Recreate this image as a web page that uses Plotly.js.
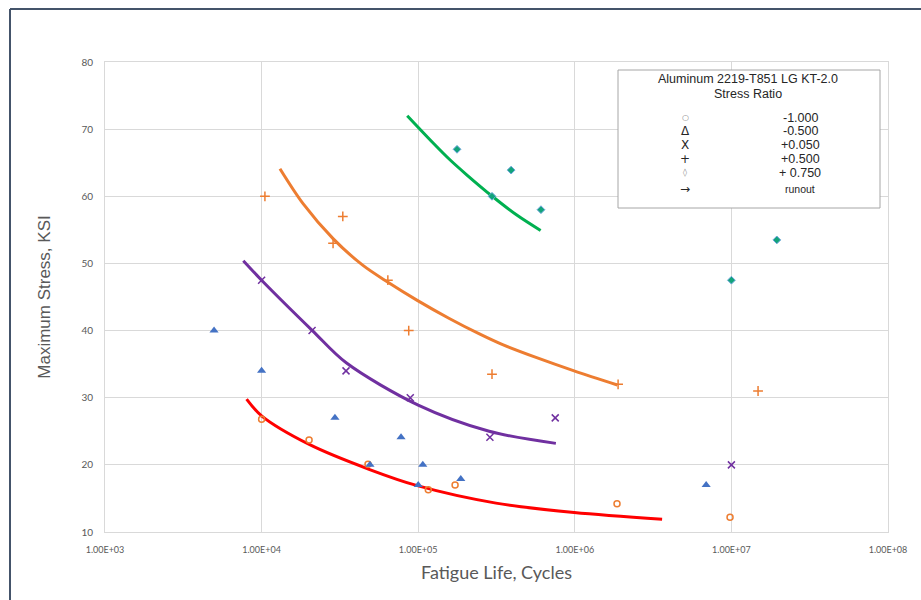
<!DOCTYPE html>
<html>
<head>
<meta charset="utf-8">
<script src="https://cdn.plot.ly/plotly-3.0.1.min.js"></script>
<style>html,body{margin:0;padding:0;background:#fff;}#chart{width:921px;height:600px;}</style>
</head>
<body>
<div id="chart"></div>
<script>
// ---- Data: test points by stress ratio ----
const rNeg1_x = [1.0e4, 2.01e4, 4.78e4, 1.16e5, 1.72e5, 1.86e6, 9.8e6];
const rNeg1_y = [26.8, 23.7, 20.1, 16.3, 17.0, 14.2, 12.2];

const rNeg05_x = [4.97e3, 1.0e4, 2.94e4, 4.92e4, 7.77e4, 1.0e5, 1.07e5, 1.87e5, 6.9e6];
const rNeg05_y = [40.0, 34.0, 27.0, 20.0, 24.1, 17.0, 20.0, 17.9, 17.0];

const r005_x = [1.0e4, 2.1e4, 3.46e4, 8.9e4, 2.87e5, 7.5e5, 1.0e7];
const r005_y = [47.5, 40.0, 34.0, 30.0, 24.1, 27.0, 20.0];

const r05_x = [1.05e4, 2.86e4, 3.3e4, 6.4e4, 8.7e4, 2.96e5, 1.89e6, 1.48e7];
const r05_y = [60.0, 53.0, 57.0, 47.5, 40.0, 33.5, 32.0, 31.0];

const r075_x = [1.77e5, 2.96e5, 3.92e5, 6.08e5, 1.0e7, 1.95e7];
const r075_y = [67.0, 60.0, 63.9, 58.0, 47.5, 53.5];

// ---- Data: fitted curves ----
const fitNeg1_x = [8.02e3, 1.0e4, 2.03e4, 4.9e4, 9.87e4, 3.14e5, 9.9e5, 3.61e6];
const fitNeg1_y = [29.8, 27.3, 23.0, 19.3, 16.9, 14.3, 12.9, 11.9];

const fit005_x = [7.64e3, 1.0e4, 2.11e4, 3.47e4, 1.0e5, 2.84e5, 7.57e5];
const fit005_y = [50.4, 47.5, 40.0, 35.2, 28.9, 25.0, 23.2];

const fit05_x = [1.31e4, 1.84e4, 2.86e4, 4.44e4, 6.41e4, 9.86e4, 1.58e5, 2.46e5, 3.46e5, 5.65e5, 9.9e5, 1.87e6];
const fit05_y = [64.1, 58.9, 53.7, 49.7, 47.2, 44.5, 41.8, 39.5, 37.9, 36.0, 34.0, 31.9];

const fit075_x = [8.51e4, 1.25e5, 1.6e5, 2.04e5, 2.97e5, 4.26e5, 6.05e5];
const fit075_y = [72.0, 67.9, 65.4, 63.2, 60.0, 57.2, 54.9];

// ---- Axis ticks ----
const xTickVals = [1e3, 1e4, 1e5, 1e6, 1e7, 1e8];
const xTickText = ['1.00E+03', '1.00E+04', '1.00E+05', '1.00E+06', '1.00E+07', '1.00E+08'];
const yTickVals = [10, 20, 30, 40, 50, 60, 70, 80];

// ---- Legend text ----
const legendTitle = ['Aluminum 2219-T851 LG KT-2.0', 'Stress Ratio'];
const legendSymbols = ['○', 'Δ', 'X', '+', '◊', '→'];
const legendLabels = ['-1.000', '-0.500', '+0.050', '+0.500', '+ 0.750', 'runout'];

const orange = '#ED7D31', blue = '#4472C4', purple = '#7030A0', green = '#00B050';
const sp = {shape: 'spline', smoothing: 0.9, width: 3};

const traces = [
  {x: fitNeg1_x, y: fitNeg1_y, mode: 'lines', line: Object.assign({color: '#FF0000'}, sp)},
  {x: fit005_x, y: fit005_y, mode: 'lines', line: Object.assign({color: purple}, sp)},
  {x: fit05_x, y: fit05_y, mode: 'lines', line: Object.assign({color: orange}, sp)},
  {x: fit075_x, y: fit075_y, mode: 'lines', line: Object.assign({color: green}, sp)},
  {x: rNeg1_x, y: rNeg1_y, mode: 'markers', marker: {symbol: 'circle-open', size: 6, color: orange, line: {width: 1.5, color: orange}}},
  {x: rNeg05_x, y: rNeg05_y, mode: 'markers', marker: {symbol: 'triangle-up', size: 8, color: blue}},
  {x: r005_x, y: r005_y, mode: 'markers', marker: {symbol: 'x-thin-open', size: 7, color: purple, line: {width: 1.5, color: purple}}},
  {x: r05_x, y: r05_y, mode: 'markers', marker: {symbol: 'cross-thin-open', size: 7, color: orange, line: {width: 1.5, color: orange}}},
  {x: r075_x, y: r075_y, mode: 'markers', marker: {symbol: 'diamond', size: 6, color: '#12A37A', line: {width: 1, color: '#6FA8DC'}}}
];

// pixel helpers for layout-only placements
const L = 105, R = 888, T = 62, B = 532;
const px = v => (v - L) / (R - L);
const py = v => (B - v) / (B - T);

const annotations = [];
const legFont = {family: 'Liberation Sans, Arial, sans-serif', size: 12.5, color: '#262626'};
annotations.push({xref: 'paper', yref: 'paper', x: px(748), y: py(79), text: legendTitle[0], showarrow: false, font: legFont, xanchor: 'center', yanchor: 'middle'});
annotations.push({xref: 'paper', yref: 'paper', x: px(748), y: py(94), text: legendTitle[1], showarrow: false, font: legFont, xanchor: 'center', yanchor: 'middle'});
const rowY = [118, 131, 145, 159, 173, 189];
for (let i = 0; i < legendSymbols.length; i++) {
  const small = (i === 0 || i === 4);
  annotations.push({xref: 'paper', yref: 'paper', x: px(685), y: py(rowY[i]), text: legendSymbols[i], showarrow: false,
    font: {family: 'DejaVu Sans, sans-serif', size: small ? 8 : 12, color: small ? '#7f7f7f' : '#262626'}, xanchor: 'center', yanchor: 'middle'});
  annotations.push({xref: 'paper', yref: 'paper', x: px(800), y: py(rowY[i]), text: legendLabels[i], showarrow: false,
    font: i === 5 ? {family: 'Liberation Sans, Arial, sans-serif', size: 10.5, color: '#262626'} : legFont, xanchor: 'center', yanchor: 'middle'});
}

const layout = {
  width: 921, height: 600,
  margin: {l: L, r: 921 - R, t: T, b: 600 - B},
  paper_bgcolor: '#ffffff', plot_bgcolor: '#ffffff',
  showlegend: false,
  xaxis: {
    type: 'log', range: [3, 8],
    tickvals: xTickVals, ticktext: xTickText,
    showgrid: true, gridcolor: '#d9d9d9', gridwidth: 1,
    showline: true, linecolor: '#d9d9d9', linewidth: 1, mirror: true,
    zeroline: false, ticks: '', ticklabelstandoff: 9,
    tickfont: {family: 'Liberation Sans Narrow, Lato, sans-serif', size: 9, color: '#595959'},
    title: {text: 'Fatigue Life, Cycles', font: {family: 'Lato, sans-serif', size: 18, color: '#595959'}, standoff: 12}
  },
  yaxis: {
    range: [10, 80], tickvals: yTickVals,
    showgrid: true, gridcolor: '#d9d9d9', gridwidth: 1,
    showline: true, linecolor: '#d9d9d9', linewidth: 1, mirror: true,
    zeroline: false, ticks: '', ticklabelstandoff: 9,
    tickfont: {family: 'Lato, sans-serif', size: 10, color: '#595959'},
    title: {text: 'Maximum Stress, KSI', font: {family: 'Liberation Sans, Arial, sans-serif', size: 17, color: '#595959'}, standoff: 26}
  },
  shapes: [
    {type: 'rect', xref: 'paper', yref: 'paper', x0: px(618), x1: px(880), y0: py(208), y1: py(70),
     line: {color: '#a6a6a6', width: 1}, fillcolor: '#ffffff', layer: 'above'},
    {type: 'line', xref: 'paper', yref: 'paper', x0: px(10), x1: px(10), y0: py(9), y1: py(640),
     line: {color: '#44546A', width: 2}},
    {type: 'line', xref: 'paper', yref: 'paper', x0: px(10), x1: px(960), y0: py(9), y1: py(9),
     line: {color: '#44546A', width: 2}}
  ],
  annotations: annotations
};

Plotly.newPlot('chart', traces, layout, {displayModeBar: false, staticPlot: true});
</script>
</body>
</html>
